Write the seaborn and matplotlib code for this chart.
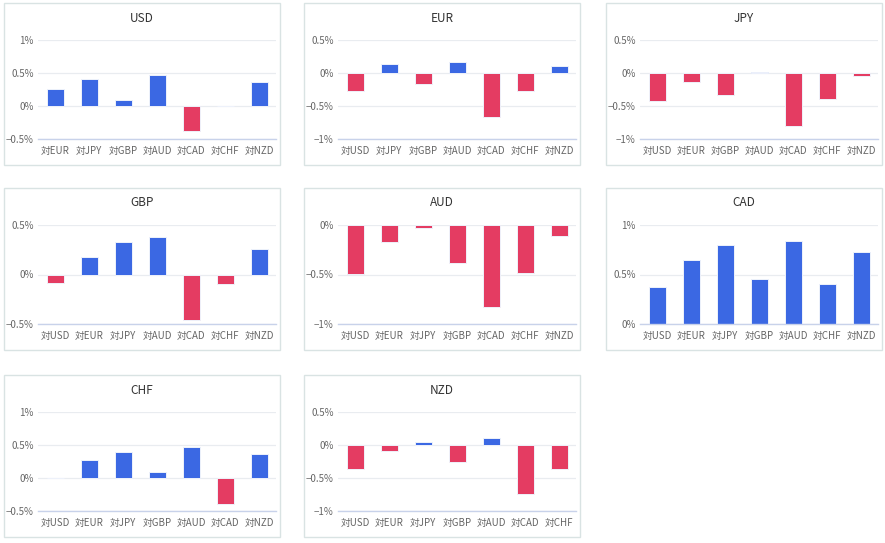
import matplotlib
matplotlib.use('Agg')
import pandas as pd
import seaborn as sns
import matplotlib.pyplot as plt
from matplotlib.patches import Rectangle
from matplotlib.ticker import FuncFormatter

sns.set_theme(style='white')
plt.rcParams['font.family'] = ['Noto Sans CJK JP', 'DejaVu Sans']

# currency strength vs each other currency (% change)
usd_pairs = ['対EUR', '対JPY', '対GBP', '対AUD', '対CAD', '対CHF', '対NZD']
usd_vals = [0.26, 0.41, 0.09, 0.47, -0.38, -0.005, 0.36]

eur_pairs = ['対USD', '対JPY', '対GBP', '対AUD', '対CAD', '対CHF', '対NZD']
eur_vals = [-0.27, 0.13, -0.17, 0.17, -0.66, -0.27, 0.10]

jpy_pairs = ['対USD', '対EUR', '対GBP', '対AUD', '対CAD', '対CHF', '対NZD']
jpy_vals = [-0.42, -0.13, -0.34, 0.01, -0.80, -0.40, -0.05]

gbp_pairs = ['対USD', '対EUR', '対JPY', '対AUD', '対CAD', '対CHF', '対NZD']
gbp_vals = [-0.09, 0.18, 0.33, 0.38, -0.46, -0.10, 0.26]

aud_pairs = ['対USD', '対EUR', '対JPY', '対GBP', '対CAD', '対CHF', '対NZD']
aud_vals = [-0.49, -0.17, -0.03, -0.38, -0.83, -0.48, -0.11]

cad_pairs = ['対USD', '対EUR', '対JPY', '対GBP', '対AUD', '対CHF', '対NZD']
cad_vals = [0.37, 0.65, 0.80, 0.45, 0.84, 0.40, 0.73]

chf_pairs = ['対USD', '対EUR', '対JPY', '対GBP', '対AUD', '対CAD', '対NZD']
chf_vals = [0.005, 0.27, 0.40, 0.09, 0.47, -0.40, 0.36]

nzd_pairs = ['対USD', '対EUR', '対JPY', '対GBP', '対AUD', '対CAD', '対CHF']
nzd_vals = [-0.37, -0.09, 0.04, -0.26, 0.10, -0.74, -0.37]

panels = [
    ('USD', usd_pairs, usd_vals, (-0.5, 1.0)),
    ('EUR', eur_pairs, eur_vals, (-1.0, 0.5)),
    ('JPY', jpy_pairs, jpy_vals, (-1.0, 0.5)),
    ('GBP', gbp_pairs, gbp_vals, (-0.5, 0.5)),
    ('AUD', aud_pairs, aud_vals, (-1.0, 0.0)),
    ('CAD', cad_pairs, cad_vals, (0.0, 1.0)),
    ('CHF', chf_pairs, chf_vals, (-0.5, 1.0)),
    ('NZD', nzd_pairs, nzd_vals, (-1.0, 0.5)),
]

BLUE = '#3b68e3'
RED = '#e43c62'
W, H = 885, 543

fig = plt.figure(figsize=(W / 100, H / 100), dpi=100)

col_x = [4, 304, 606]
row_y = [3, 188, 375]
pw, ph = 276, 162


def pct(v, pos):
    if abs(v) < 1e-9:
        return '0%'
    s = ('%g' % v).replace('-', '\u2212')
    return s + '%'


for i, (name, pairs, vals, (lo, hi)) in enumerate(panels):
    px, py = col_x[i % 3], row_y[i // 3]
    # panel frame
    fig.add_artist(Rectangle((px / W, 1 - (py + ph) / H), pw / W, ph / H,
                             transform=fig.transFigure, fill=False,
                             edgecolor='#d9e3e3', linewidth=1.0))
    fig.text((px + pw / 2) / W, 1 - (py + 15) / H, name, ha='center', va='center',
             fontsize=8.5, color='#333333')

    ax_l, ax_r, ax_t, ax_b = px + 34, px + pw - 4, py + 37, py + 136
    ax = fig.add_axes([ax_l / W, 1 - ax_b / H, (ax_r - ax_l) / W, (ax_b - ax_t) / H])

    df = pd.DataFrame({'pair': pairs, 'chg': vals})
    colors = [BLUE if v >= 0 else RED for v in vals]
    sns.barplot(data=df, x='pair', y='chg', hue='pair', palette=colors, legend=False,
                width=0.5, saturation=1, edgecolor='#eef2fb', linewidth=0.7, ax=ax)

    ax.set_ylim(lo, hi)
    ax.set_xlim(-0.5, len(pairs) - 0.5)
    ticks = [lo + 0.5 * k for k in range(int(round((hi - lo) / 0.5)) + 1)]
    ax.set_yticks(ticks)
    ax.yaxis.set_major_formatter(FuncFormatter(pct))
    ax.set_xlabel('')
    ax.set_ylabel('')
    ax.yaxis.grid(True, color='#e9ecf0', linewidth=0.9)
    ax.set_axisbelow(True)
    for s in ['top', 'right', 'left']:
        ax.spines[s].set_visible(False)
    ax.spines['bottom'].set_color('#c8d2ea')
    ax.spines['bottom'].set_linewidth(1.0)
    ax.tick_params(axis='y', length=0, labelsize=7, colors='#666666', pad=3)
    ax.tick_params(axis='x', length=0, labelsize=7, colors='#666666', pad=5)

fig.savefig('out.png', dpi=100)
